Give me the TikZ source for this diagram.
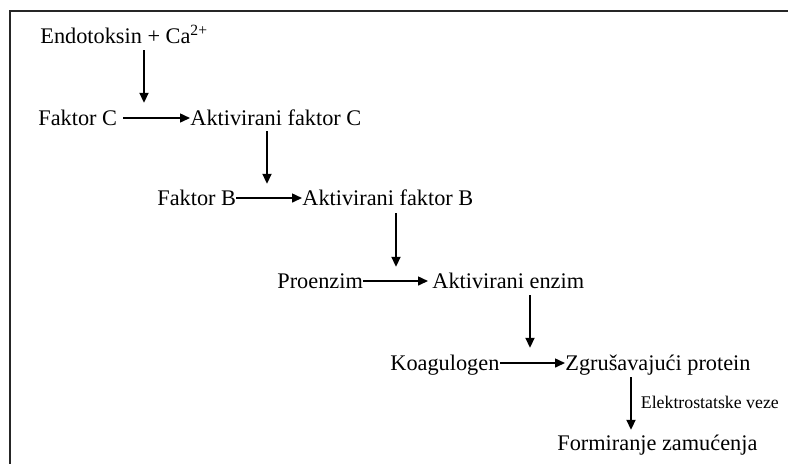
\documentclass[tikz,border=0pt]{standalone}
\usepackage{fontspec}
\setmainfont{Liberation Serif}
\usetikzlibrary{arrows.meta}
\begin{document}
\begin{tikzpicture}[x=0.5pt,y=-0.5pt,
  lbl/.style={anchor=base west, inner sep=0pt, text height=7.4pt, text depth=2.4pt,
    font=\fontsize{11.15}{13}\selectfont},
  small/.style={font=\fontsize{8.9}{10}\selectfont, inner sep=0pt},
  arr/.style={line width=0.75pt, -{Triangle[length=5pt,width=4.5pt]}},
  varr/.style={arr, line width=0.9pt},
  frame/.style={line width=1pt, draw=black!85}]
\useasboundingbox (0,0) rectangle (788,463);
\clip (0,0) rectangle (788,463);
\draw[frame] (10,480) -- (10,11) -- (800,11);

\node[lbl] (e)   at (40,43)   {Endotoksin + Ca\textsuperscript{2+}};
\node[lbl] (fc)  at (38,125)  {Faktor C};
\node[lbl] (afc) at (190,125) {Aktivirani faktor C};
\node[lbl] (fb)  at (157,205) {Faktor B};
\node[lbl] (afb) at (302,205) {Aktivirani faktor B};
\node[lbl] (pe)  at (277,288) {Proenzim};
\node[lbl] (ae)  at (432,288) {Aktivirani enzim};
\node[lbl] (ko)  at (390,370) {Koagulogen};
\node[lbl] (zp)  at (565,370) {Zgrušavajući protein};
\node[lbl] (fz)  at (557,450) {Formiranje zamućenja};

\coordinate (v1) at (144,0);
\coordinate (v2) at (267,0);
\coordinate (v3) at (396,0);
\coordinate (v4) at (530,0);
\coordinate (v5) at (631,0);

\draw[varr, shorten <=1pt, shorten >=3.5pt] (e.south -| v1) -- (fc.north -| v1);
\draw[varr, shorten <=0.5pt, shorten >=3pt] (afc.south -| v2) -- (fb.north -| v2);
\draw[varr, shorten <=1.5pt, shorten >=3pt] (afb.south -| v3) -- (pe.north -| v3);
\draw[varr, shorten <=1pt, shorten >=3.5pt] (ae.south -| v4) -- (ko.north -| v4);
\draw[varr, shorten <=1pt, shorten >=2.5pt] (zp.south -| v5) -- node[pos=0.45, right=4.5pt, small] (ev) {Elektrostatske veze} (fz.north -| v5);

\draw[arr, shorten <=3pt] ([yshift=3.5pt]fc.base east) -- ([yshift=3.5pt]afc.base west);
\draw[arr] ([yshift=3.5pt]fb.base east) -- ([yshift=3.5pt]afb.base west);
\draw[arr, shorten >=2pt] ([yshift=3.5pt]pe.base east) -- ([yshift=3.5pt]ae.base west);
\draw[arr] ([yshift=3.5pt]ko.base east) -- ([yshift=3.5pt]zp.base west);
\end{tikzpicture}
\end{document}
